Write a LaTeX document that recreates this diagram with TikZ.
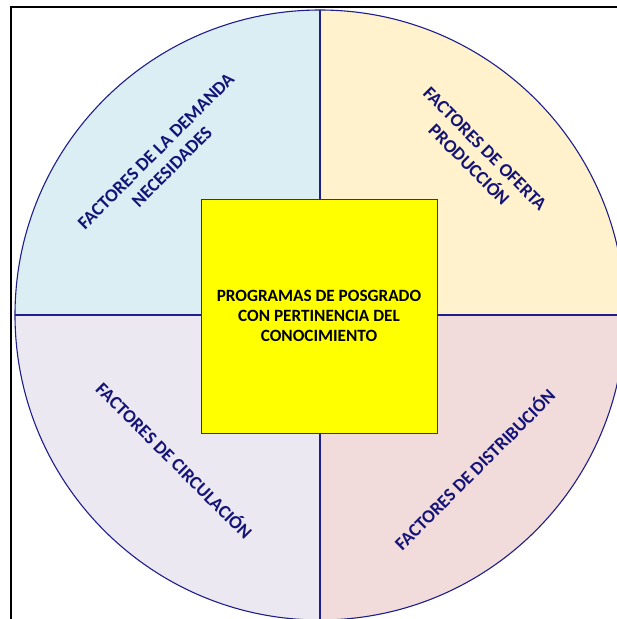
\documentclass[tikz,border=0pt]{standalone}
\usepackage{fontspec}
\setmainfont{Carlito}
\begin{document}
\begin{tikzpicture}[x=1pt,y=-1pt,
  divider/.style={draw=navyline, line width=1.1pt},
  qtext/.style={text=navytext, font=\bfseries\fontsize{18.5}{22.5}\selectfont, align=center, inner sep=0pt},
  centerbox/.style={draw=boxborder, line width=1pt, fill=boxyellow, minimum width=236pt, minimum height=234pt, inner sep=0pt, align=center, font=\bfseries\fontsize{17.2}{20}\selectfont}]
\definecolor{navyline}{RGB}{30,30,140}
\definecolor{navytext}{RGB}{20,20,120}
\definecolor{boxborder}{RGB}{140,20,20}
\definecolor{boxyellow}{RGB}{255,255,0}
\definecolor{qblue}{RGB}{218,238,243}
\definecolor{qyellow}{RGB}{255,242,204}
\definecolor{qlav}{RGB}{235,232,241}
\definecolor{qpink}{RGB}{242,220,219}
\useasboundingbox (0,0) rectangle (617,619);
\begin{scope}
\clip (0,0) rectangle (617,619);
\draw[black, line width=2.2pt] (11,6.7) rectangle (660,660);
\coordinate (c) at (320,315);
\begin{scope}
\clip (c) circle[radius=305];
\fill[qblue] (c) rectangle (0,0);
\fill[qyellow] (c) rectangle (640,0);
\fill[qpink] (c) rectangle (640,640);
\fill[qlav] (c) rectangle (0,640);
\end{scope}
\draw[divider] (c) circle[radius=305];
\coordinate (top) at (320,10);
\coordinate (bot) at (320,620);
\coordinate (lft) at (15,315);
\coordinate (rgt) at (625,315);
\draw[divider] (top) -- (bot);
\draw[divider] (lft) -- (rgt);
\end{scope}
\node[centerbox] (box) at (319,316) {PROGRAMAS DE POSGRADO\\CON PERTINENCIA DEL\\CONOCIMIENTO};
\node[qtext, rotate=45] (dem) at (164,159) {FACTORES DE LA DEMANDA\\NECESIDADES};
\node[qtext, rotate=-45] (ofe) at (477,157) {FACTORES DE OFERTA\\PRODUCCIÓN};
\node[qtext, rotate=-45] (cir) at (175,460) {FACTORES DE CIRCULACIÓN};
\node[qtext, rotate=45] (dis) at (474,469) {FACTORES DE DISTRIBUCIÓN};
\end{tikzpicture}
\end{document}
